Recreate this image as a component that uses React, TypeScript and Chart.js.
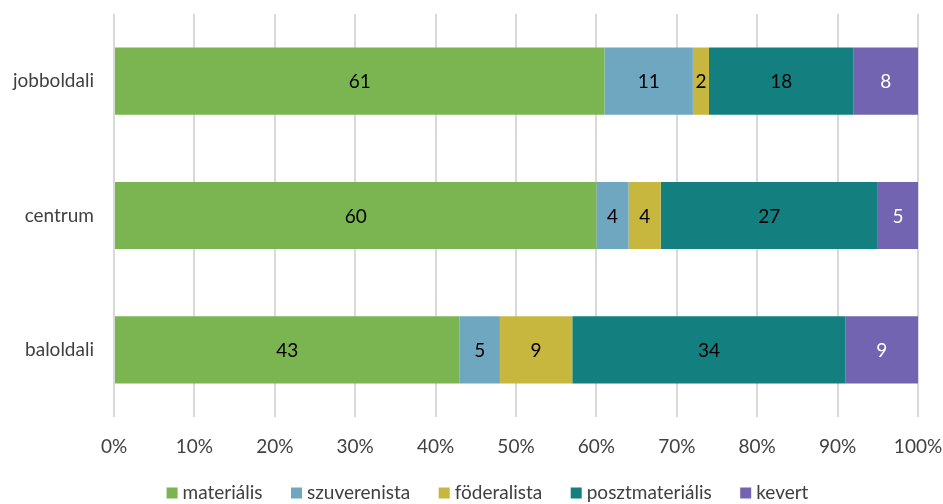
import React, { useEffect, useRef } from "react";
import { Chart, registerables } from "chart.js";

Chart.register(...registerables);

const categories = ["jobboldali", "centrum", "baloldali"];
const seriesNames = ["materiális", "szuverenista", "föderalista", "posztmateriális", "kevert"];
const materialis = [61, 60, 43];
const szuverenista = [11, 4, 5];
const foderalista = [2, 4, 9];
const posztmaterialis = [18, 27, 34];
const kevert = [8, 5, 9];
const colors = ["#7AB552", "#6FA7C1", "#C8B73F", "#13807F", "#7264B1"];
const labelColors = ["#000000", "#000000", "#000000", "#000000", "#ffffff"];
const xTicks = [0, 10, 20, 30, 40, 50, 60, 70, 80, 90, 100];

const FONT = "Lato, 'Open Sans', sans-serif";
const TEXT = "#404040";
const SIZE = 19;

const valueLabels = {
  id: "valueLabels",
  afterDatasetsDraw(chart: any) {
    const ctx = chart.ctx;
    ctx.save();
    ctx.font = `${SIZE}px ${FONT}`;
    ctx.textAlign = "center";
    ctx.textBaseline = "middle";
    chart.data.datasets.forEach((ds: any, i: number) => {
      const meta = chart.getDatasetMeta(i);
      meta.data.forEach((el: any, j: number) => {
        const v = ds.data[j];
        const cx = (el.x + el.base) / 2;
        ctx.fillStyle = labelColors[i];
        ctx.fillText(String(v), cx, el.y + 1);
      });
    });
    ctx.restore();
  },
};

const customLegend = {
  id: "customLegend",
  afterDraw(chart: any) {
    const ctx = chart.ctx;
    ctx.save();
    ctx.font = `${SIZE}px ${FONT}`;
    ctx.textBaseline = "middle";
    ctx.textAlign = "left";
    const box = 11;
    const boxGap = 5;
    const itemGap = 28.5;
    const widths = chart.data.datasets.map((ds: any) => ctx.measureText(ds.label).width);
    const total =
      widths.reduce((a: number, b: number) => a + b, 0) +
      widths.length * (box + boxGap) +
      (widths.length - 1) * itemGap;
    let x = 487.5 - total / 2;
    const y = 493;
    chart.data.datasets.forEach((ds: any, i: number) => {
      ctx.fillStyle = ds.backgroundColor;
      ctx.fillRect(x, y - box / 2, box, box);
      x += box + boxGap;
      ctx.fillStyle = TEXT;
      ctx.fillText(ds.label, x, y);
      x += widths[i] + itemGap;
    });
    ctx.restore();
  },
};

export default function App() {
  const ref = useRef<HTMLCanvasElement>(null);
  useEffect(() => {
    const data = [materialis, szuverenista, foderalista, posztmaterialis, kevert];
    const chart = new Chart(ref.current!, {
      type: "bar",
      data: {
        labels: categories,
        datasets: seriesNames.map((name, i) => ({
          label: name,
          data: data[i],
          backgroundColor: colors[i],
          borderWidth: 0,
          categoryPercentage: 1,
          barPercentage: 0.5,
        })),
      },
      options: {
        indexAxis: "y",
        animation: false,
        responsive: false,
        maintainAspectRatio: false,
        layout: { padding: { left: 0, right: 25, top: 14, bottom: 0 } },
        plugins: {
          legend: { display: false },
          tooltip: { enabled: false },
        },
        scales: {
          x: {
            stacked: true,
            min: 0,
            max: 100,
            afterBuildTicks: (axis: any) => {
              axis.ticks = xTicks.map((v) => ({ value: v }));
            },
            afterFit: (axis: any) => {
              axis.height = 87;
              axis.paddingLeft = 0;
              axis.paddingRight = 0;
            },
            ticks: {
              callback: (v: any) => v + "%",
              color: TEXT,
              font: { family: FONT, size: SIZE },
              padding: 18,
              maxRotation: 0,
              autoSkip: false,
            },
            grid: { color: "#d9d9d9", lineWidth: 2, drawTicks: false },
            border: { display: false },
          },
          y: {
            stacked: true,
            afterFit: (axis: any) => {
              axis.width = 114;
              axis.paddingTop = 0;
              axis.paddingBottom = 0;
            },
            ticks: {
              color: TEXT,
              font: { family: FONT, size: SIZE },
              padding: 12,
            },
            grid: { display: false },
            border: { display: false },
          },
        },
      },
      plugins: [valueLabels, customLegend],
    } as any);
    return () => chart.destroy();
  }, []);
  return (
    <div style={{ position: "fixed", left: 0, top: 0, width: 943, height: 504, background: "#fff" }}>
      <canvas ref={ref} width={943} height={504} style={{ display: "block" }} />
    </div>
  );
}
